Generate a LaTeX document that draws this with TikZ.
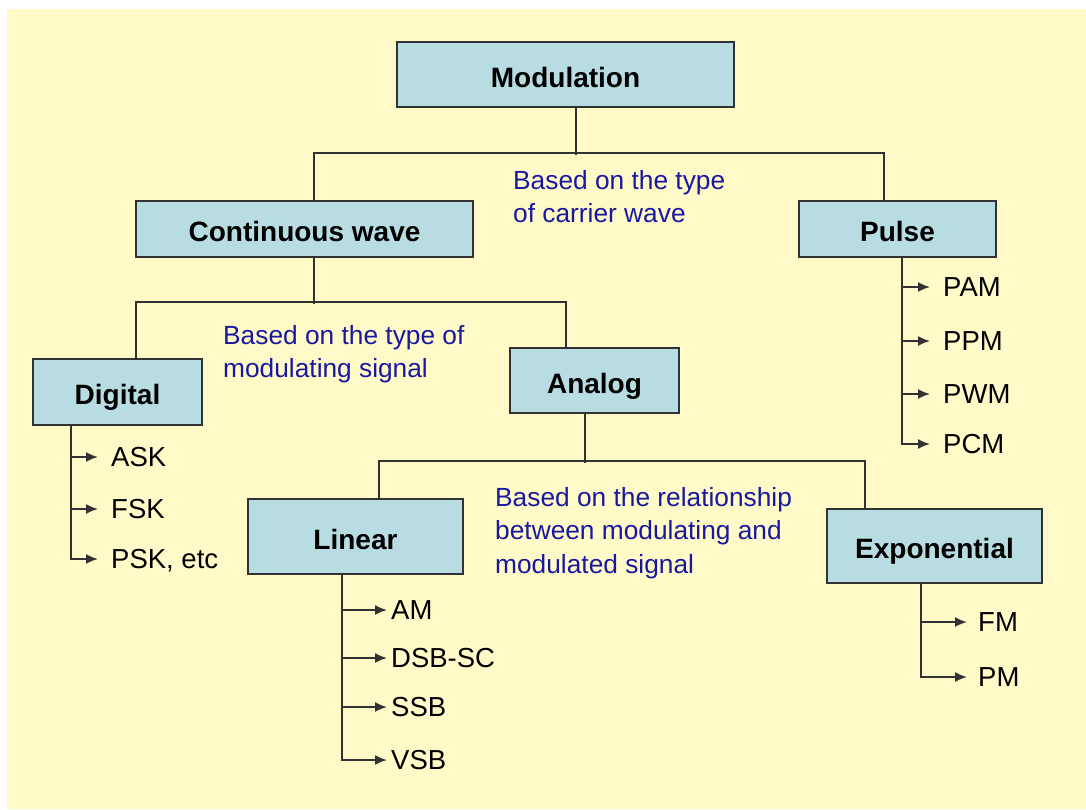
\documentclass[tikz,border=0pt]{standalone}
\usepackage{fontspec}
\setmainfont{Liberation Sans}
\usetikzlibrary{arrows.meta}
\definecolor{paper}{RGB}{255,250,200}
\definecolor{boxfill}{RGB}{183,221,227}
\definecolor{edge}{RGB}{50,50,50}
\definecolor{note}{RGB}{25,25,160}
\begin{document}
\begin{tikzpicture}[x=1pt,y=-1pt,
  category/.style={draw=edge, line width=1.8pt, fill=boxfill, inner sep=0pt,
    text height=25pt, text depth=0pt, font=\fontsize{28}{33}\selectfont\bfseries},
  leaf/.style={anchor=west, inner sep=0pt, text height=19.7pt, text depth=0pt,
    font=\fontsize{27.5}{33}\selectfont},
  remark/.style={anchor=north west, inner sep=0pt, align=left, text=note,
    font=\fontsize{26.3}{33.5}\selectfont},
  link/.style={draw=edge, line width=1.8pt},
  branch/.style={link, -{Latex[length=12pt,width=10pt]}},
]
% page and backdrop
\fill[white] (0,0) rectangle (1086,809);
\fill[paper] (7,9) rectangle (1086,809);
\useasboundingbox (0,0) rectangle (1086,809);

% category boxes
\node[category, minimum width=337pt, minimum height=65pt] (mod)   at (565.5,74.5) {Modulation};
\node[category, minimum width=337pt, minimum height=56pt] (cw)    at (304.5,229)  {Continuous wave};
\node[category, minimum width=197pt, minimum height=56pt] (pulse) at (897.5,229)  {Pulse};
\node[category, minimum width=169pt, minimum height=66pt] (dig)   at (117.5,392)  {Digital};
\node[category, minimum width=169pt, minimum height=65pt] (ana)   at (594.5,380.5) {Analog};
\node[category, minimum width=215pt, minimum height=75pt] (lin)   at (355.5,536.5) {Linear};
\node[category, minimum width=215pt, minimum height=74pt] (expo)  at (934.5,546)  {Exponential};

% tree connectors
\draw[link] ([xshift=10.5pt]mod.south) -- ++(0,47);
\draw[link] ([xshift=9.5pt]cw.north) -- ++(0,-47) -| ([xshift=-13.5pt]pulse.north);
\draw[link] ([xshift=9.5pt]cw.south) -- ++(0,46);
\draw[link] ([xshift=18.5pt]dig.north) -- ++(0,-56) -| ([xshift=-28.5pt]ana.north);
\draw[link] ([xshift=-9.5pt]ana.south) -- ++(0,49);
\draw[link] ([xshift=23.5pt]lin.north) -- ++(0,-37) -| ([xshift=-69.5pt]expo.north);

% explanatory notes
\node[remark] (n1) at (513,170) {Based on the type\\of carrier wave};
\node[remark] (n2) at (223,325) {Based on the type of\\modulating signal};
\node[remark] (n3) at (495,487) {Based on the relationship\\between modulating and\\modulated signal};

% pulse techniques
\node[leaf] (pam) at (943,287) {PAM};
\node[leaf] (ppm) at (943,341) {PPM};
\node[leaf] (pwm) at (943,394) {PWM};
\node[leaf] (pcm) at (943,444) {PCM};
\foreach \t in {pam,ppm,pwm,pcm}
  \draw[branch] ([xshift=4.5pt]pulse.south) |- ([xshift=-13pt]\t.west);

% digital techniques
\node[leaf] (ask) at (111,457) {ASK};
\node[leaf] (fsk) at (111,509) {FSK};
\node[leaf] (psk) at (111,559) {PSK, etc};
\foreach \t in {ask,fsk,psk}
  \draw[branch] ([xshift=-46.5pt]dig.south) |- ([xshift=-13pt]\t.west);

% linear techniques
\node[leaf] (am)  at (391,610) {AM};
\node[leaf] (dsb) at (391,658) {DSB-SC};
\node[leaf] (ssb) at (391,707) {SSB};
\node[leaf] (vsb) at (391,760) {VSB};
\foreach \t in {am,dsb,ssb,vsb}
  \draw[branch] ([xshift=-13.5pt]lin.south) |- ([xshift=-4pt]\t.west);

% exponential techniques
\node[leaf] (fm) at (978,622) {FM};
\node[leaf] (pm) at (978,677) {PM};
\foreach \t in {fm,pm}
  \draw[branch] ([xshift=-13.5pt]expo.south) |- ([xshift=-11pt]\t.west);
\end{tikzpicture}
\end{document}
